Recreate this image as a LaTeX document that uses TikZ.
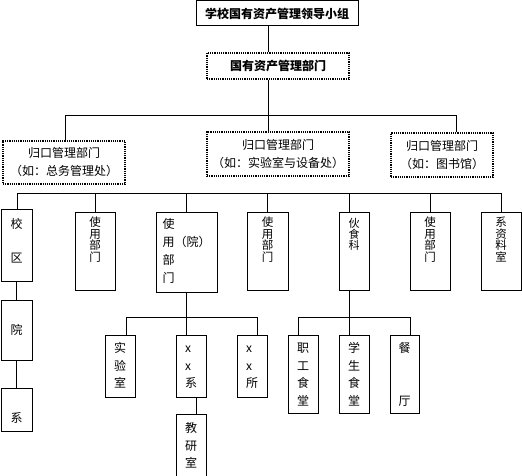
\documentclass[tikz,border=0pt]{standalone}
\usepackage{fontspec}
\newfontfamily\cjk{Noto Sans CJK SC}
\begin{document}
\begin{tikzpicture}[x=1pt, y=-1pt, line width=1pt,
  unit/.style={draw, inner sep=0pt, font=\cjk\fontsize{12}{18}\selectfont},
  dotbox/.style={unit, line width=1.6pt, dash pattern=on 1.2pt off 1pt, align=center},
  col/.style={unit, anchor=north, align=center, text width=14pt},
  tight/.style={font=\cjk\fontsize{11.5}{11.5}\selectfont},
  sub/.style={font=\cjk\fontsize{12}{17.5}\selectfont}]
\useasboundingbox (0,0) rectangle (522,476);
\node[unit, font=\cjk\bfseries\fontsize{12}{14}\selectfont, minimum width=162, minimum height=25] (top) at (277,13.5) {学校国有资产管理领导小组};
\node[dotbox, font=\cjk\bfseries\fontsize{12}{14}\selectfont, minimum width=142, minimum height=26] (mgmt) at (278,66) {国有资产管理部门};
\node[dotbox, minimum width=122, minimum height=43] (gl) at (64,162.5) {归口管理部门\\（如：总务管理处）};
\node[dotbox, minimum width=142, minimum height=44] (gm) at (278,154) {归口管理部门\\（如：实验室与设备处）};
\node[dotbox, minimum width=102, minimum height=44] (gr) at (442,155) {归口管理部门\\（如：图书馆）};
\node[col, font=\cjk\fontsize{12}{34}\selectfont, minimum width=31, text height=19, text depth=53] (xq) at (16.5,209) {校\\区};
\node[unit, minimum width=31, minimum height=60] (yuan) at (16.5,330) {院};
\node[col, minimum width=31, text height=34, text depth=9] (xi) at (16.5,388) {系};
\node[col, tight, minimum width=40, text height=14, text depth=64] (sy1) at (95,212) {使\\用\\部\\门};
\node[col, text width=48, align=left, minimum width=61, text height=16, text depth=64] (syy) at (186.5,212) {使\\用（院）\\部\\门};
\node[col, tight, minimum width=41, text height=14, text depth=64] (sy2) at (267.5,212) {使\\用\\部\\门};
\node[col, font=\cjk\fontsize{11}{11}\selectfont, minimum width=30, text height=15, text depth=63] (hsk) at (354,212) {伙\\食\\科};
\node[col, tight, minimum width=40, text height=14, text depth=64] (sy3) at (430,212) {使\\用\\部\\门};
\node[col, tight, minimum width=40, text height=14, text depth=64] (zls) at (501,212) {系\\资\\料\\室};
\node[col, sub, minimum width=30, text height=17, text depth=45] (sys) at (120,335) {实\\验\\室};
\node[col, sub, text width=12, align=left, minimum width=30, text height=17, text depth=45] (xxx) at (191,335) {x\\x\\系};
\node[col, sub, text width=12, align=left, minimum width=30, text height=17, text depth=45] (xxs) at (252,335) {x\\x\\所};
\node[col, sub, minimum width=30, text height=18, text depth=44] (jys) at (191,414) {教\\研\\室};
\node[col, sub, minimum width=30, text height=17, text depth=61] (zgst) at (303,335) {职\\工\\食\\堂};
\node[col, sub, minimum width=30, text height=17, text depth=61] (xsst) at (354,335) {学\\生\\食\\堂};
\node[col, sub, minimum width=29, text height=17, text depth=61] (ct) at (404.5,335) {餐\\[35pt]厅};
\coordinate (j1) at (268,116);
\coordinate (a1l) at (65,116);
\coordinate (a1r) at (456,116);
\coordinate (b0l) at (17,193);
\coordinate (b0r) at (501,193);
\coordinate (c0) at (349,193);
\coordinate (b1l) at (126,317);
\coordinate (b1r) at (257,317);
\coordinate (c1l) at (298,317);
\coordinate (c1) at (349,317);
\coordinate (c1r) at (410,317);
\draw (top.south -| j1) -- (mgmt.north -| j1);
\draw (mgmt.south -| j1) -- (gm.north -| j1);
\draw (gl.north -| a1l) |- (a1r) -- (gr.north -| a1r);
\draw (xq.north -| b0l) |- (b0r) -- (zls.north -| b0r);
\foreach \n in {sy1,syy,sy2,sy3}
  \draw (\n.north |- b0l) -- (\n.north);
\draw (c0) -- (hsk.north -| c0);
\draw (xq) -- (yuan);
\draw (yuan) -- (xi);
\draw (syy.south) -- (xxx.north -| syy.south);
\draw (sys.north -| b1l) |- (b1r) -- (xxs.north -| b1r);
\draw ([xshift=5pt]xxx.south) -- ([xshift=5pt]jys.north);
\draw (hsk.south -| c1) -- (xsst.north -| c1);
\draw (zgst.north -| c1l) |- (c1r) -- (ct.north -| c1r);
\end{tikzpicture}
\end{document}
